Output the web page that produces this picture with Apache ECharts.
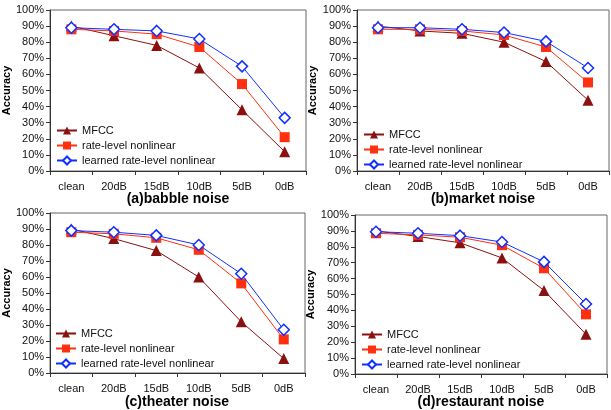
<!DOCTYPE html>
<html><head><meta charset="utf-8">
<script src="https://cdn.jsdelivr.net/npm/echarts@6/dist/echarts.min.js"></script>
<style>html,body{margin:0;padding:0;background:#fff}#c{width:611px;height:410px}</style>
</head><body><div id="c"></div>
<script>
const categories = ['clean','20dB','15dB','10dB','5dB','0dB'];
const seriesNames = ['MFCC','rate-level nonlinear','learned rate-level nonlinear'];
const yTicks = [0,10,20,30,40,50,60,70,80,90,100];
const panelTitles = ['(a)babble noise','(b)market noise','(c)theater noise','(d)restaurant noise'];

const babbleMFCC    = [90, 84, 78, 64, 38, 12];
const babbleRate    = [88, 87, 85, 77, 54, 21];
const babbleLearned = [89, 88, 87, 82, 65, 33];

const marketMFCC    = [90, 87, 85.5, 80, 68, 44];
const marketRate    = [88, 88, 87, 84.5, 77, 55];
const marketLearned = [89, 89, 88, 86, 80.5, 64];

const theaterMFCC    = [90, 84, 76.5, 60, 32, 9];
const theaterRate    = [88, 87, 84.5, 77, 56, 21];
const theaterLearned = [89, 88, 86, 80, 62, 27];

const restaurantMFCC    = [90, 86.5, 82.5, 73, 52.5, 25];
const restaurantRate    = [88.5, 87.5, 86, 81, 66.5, 37.5];
const restaurantLearned = [89.5, 88.5, 87, 83, 70.5, 44];

const panels = [
  [babbleMFCC, babbleRate, babbleLearned],
  [marketMFCC, marketRate, marketLearned],
  [theaterMFCC, theaterRate, theaterLearned],
  [restaurantMFCC, restaurantRate, restaurantLearned]
];

const FONT = 'Liberation Sans';
const grids = [
  {left: 50, top: 10, width: 256, height: 161},
  {left: 357, top: 10, width: 252, height: 161},
  {left: 49, top: 213, width: 256, height: 160},
  {left: 355, top: 215, width: 252, height: 159}
];
const titleY = [200, 200, 403, 403];
const legendTop = [125, 129, 328, 329];

const styles = [
  {color: '#8b1010', symbol: 'triangle', symbolSize: 11, lineWidth: 1, fill: '#8b1010'},
  {color: '#ff3010', symbol: 'rect', symbolSize: 10, lineWidth: 1, fill: '#ff3010'},
  {color: '#1030ff', symbol: 'diamond', symbolSize: 11, lineWidth: 1, fill: '#ffffff'}
];

const option = {
  animation: false,
  textStyle: {fontFamily: FONT},
  grid: grids.map(g => Object.assign({show: true, borderColor: '#666', borderWidth: 1, backgroundColor: 'transparent'}, g)),
  xAxis: grids.map((g, i) => ({
    type: 'category', gridIndex: i, data: categories, boundaryGap: true,
    axisLine: {lineStyle: {color: '#333', width: 1}},
    axisTick: {show: true, inside: false, length: 4, alignWithLabel: false, lineStyle: {color: '#333'}},
    axisLabel: {color: '#111', fontSize: 11, fontFamily: FONT, margin: 10}
  })),
  yAxis: grids.map((g, i) => ({
    type: 'value', gridIndex: i, min: 0, max: 100, interval: 10,
    name: 'Accuracy', nameLocation: 'middle', nameGap: 28,
    nameTextStyle: {fontSize: 11, fontWeight: 'bold', color: '#000', fontFamily: FONT},
    axisLine: {show: true, lineStyle: {color: '#333', width: 1}},
    axisTick: {show: true, length: 4, lineStyle: {color: '#333'}},
    splitLine: {show: false},
    axisLabel: {color: '#111', fontSize: 11, fontFamily: FONT, margin: 6, formatter: v => yTicks.includes(v) ? v + '%' : ''}
  })),
  title: panelTitles.map((t, i) => ({
    text: t, left: grids[i].left + grids[i].width / 2, top: titleY[i] - 8, textAlign: 'center', padding: 0,
    textStyle: {fontSize: 14, fontWeight: 'bold', color: '#000', fontFamily: FONT}
  })),
  legend: grids.map((g, i) => ({
    orient: 'vertical', left: g.left + 6, top: legendTop[i], padding: 0,
    itemWidth: 20, itemHeight: 10, itemGap: 4,
    textStyle: {fontSize: 11, color: '#111', fontFamily: FONT},
    data: seriesNames
  })),
  series: []
};

panels.forEach((vals, p) => {
  vals.forEach((d, s) => {
    const st = styles[s];
    option.series.push({
      name: seriesNames[s], type: 'line', xAxisIndex: p, yAxisIndex: p,
      data: d, symbol: st.symbol, symbolSize: st.symbolSize,
      lineStyle: {color: st.color, width: st.lineWidth},
      itemStyle: {color: st.fill, borderColor: st.color, borderWidth: s === 2 ? 1.5 : 0},
      z: 2 + s
    });
  });
});

const chart = echarts.init(document.getElementById('c'), null, {renderer: 'canvas'});
chart.setOption(option);
</script></body></html>
